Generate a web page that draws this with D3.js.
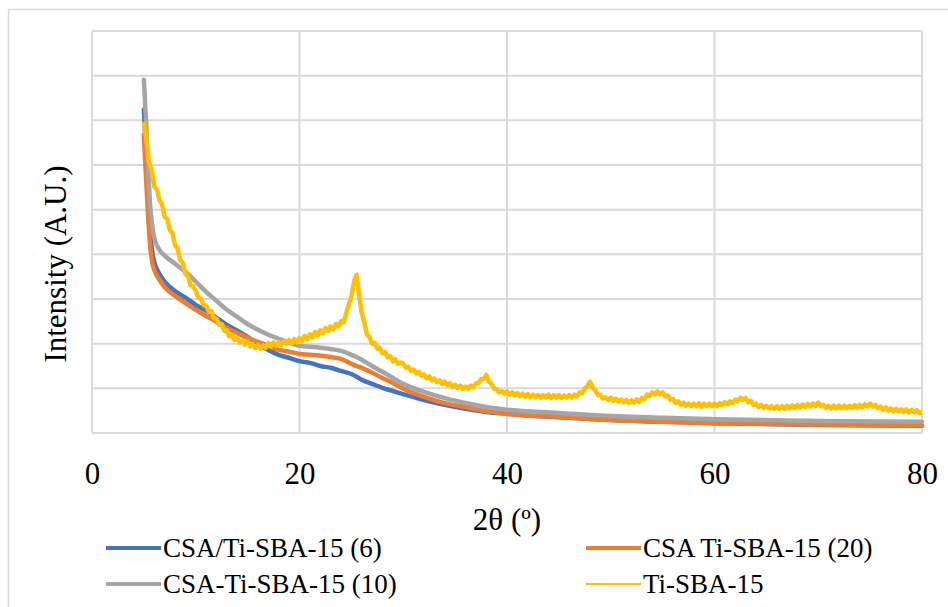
<!DOCTYPE html>
<html>
<head>
<meta charset="utf-8">
<script src="https://cdn.jsdelivr.net/npm/d3@7"></script>
</head>
<body style="margin:0">
<svg id="xrd" width="948" height="607"></svg>
<script>
// X-ray diffraction patterns, intensity in arbitrary units
const xTicks = [0, 20, 40, 60, 80];
const yGrid = [0, 100, 200, 300, 400, 500, 600, 700, 800, 900];

const seriesNames = ["CSA/Ti-SBA-15 (6)", "CSA Ti-SBA-15 (20)", "CSA-Ti-SBA-15 (10)", "Ti-SBA-15"];
const seriesColors = ["#4472C4", "#ED7D31", "#A5A5A5", "#FFC000"];

// Shared 2θ positions for the three CSA samples
const twoThetaCSA = [5, 5.2, 5.4, 5.6, 5.8, 6, 6.5, 7, 8, 9, 10, 11, 12, 13, 14, 15, 16, 17, 18, 19,
  20, 21, 22, 23, 24, 25, 25.5, 26, 27, 28, 29, 30, 32, 34, 36, 38, 40, 45, 50, 55, 60, 70, 80];

const csa6 = [724, 634, 534, 451, 406, 383, 356, 339, 318, 303, 287, 274, 258, 242, 229, 215, 200, 186, 175, 168,
  161, 157, 150, 146, 139, 132, 126, 119, 110, 101, 94, 87, 74, 63, 54, 47, 43, 35, 29, 25, 22, 18, 16];

const csa20 = [668, 578, 489, 421, 383, 365, 343, 327, 307, 291, 276, 262, 249, 235, 224, 213, 204, 195, 186, 182,
  177, 175, 173, 170, 166, 155, 150, 146, 135, 123, 112, 99, 81, 67, 58, 49, 43, 36, 29, 25, 22, 19, 17];

const csa10 = [791, 702, 601, 511, 466, 437, 410, 397, 379, 361, 339, 316, 296, 276, 260, 244, 231, 220, 211, 202,
  195, 193, 191, 188, 184, 175, 170, 164, 150, 137, 123, 110, 92, 78, 67, 58, 52, 45, 38, 34, 31, 27, 25];

// Ti-SBA-15 pattern, recorded every 0.25° from 5° to 80°
const tiStart = 5, tiStep = 0.25;
const tiSBA = [
  697, 655, 606, 590, 552, 546, 522, 512, 484, 479, 455, 447, 421, 413, 387, 381, 356, 352, 331, 329,
  318, 302, 301, 286, 285, 271, 273, 257, 256, 243, 244, 229, 230, 216, 219, 208, 213, 203, 207, 198,
  204, 194, 199, 190, 197, 189, 196, 191, 201, 194, 203, 196, 204, 197, 206, 199, 208, 201, 210, 203,
  213, 206, 217, 210, 221, 214, 226, 219, 230, 223, 235, 228, 239, 232, 244, 238, 250, 248, 268, 288,
  305, 338, 354, 308, 268, 248, 220, 215, 200, 202, 189, 191, 178, 181, 169, 172, 160, 165, 155, 158,
  155, 146, 148, 139, 142, 133, 137, 128, 131, 123, 127, 118, 122, 114, 118, 110, 115, 107, 111, 103,
  108, 101, 106, 99, 104, 99, 106, 102, 111, 111, 121, 121, 130, 115, 110, 99, 98, 91, 94, 88,
  93, 86, 91, 84, 89, 82, 88, 81, 87, 80, 86, 80, 85, 79, 85, 79, 86, 78, 85, 79,
  85, 78, 84, 79, 85, 79, 86, 82, 91, 89, 100, 104, 115, 102, 96, 85, 85, 77, 80, 74,
  79, 72, 77, 70, 75, 69, 74, 67, 73, 68, 75, 70, 79, 76, 86, 83, 91, 86, 93, 87,
  91, 82, 84, 74, 76, 67, 71, 63, 68, 61, 66, 60, 66, 60, 67, 59, 66, 60, 66, 60,
  66, 60, 67, 62, 69, 64, 71, 67, 75, 71, 79, 74, 78, 69, 72, 63, 66, 58, 63, 56,
  61, 55, 60, 54, 60, 54, 60, 54, 61, 55, 62, 56, 63, 57, 64, 58, 65, 59, 66, 60,
  68, 60, 63, 56, 61, 55, 61, 55, 61, 55, 61, 55, 61, 56, 62, 57, 63, 58, 64, 59,
  66, 59, 63, 55, 59, 52, 57, 50, 55, 49, 54, 48, 53, 47, 53, 46, 52, 46, 51, 45,
  47
];

const SERIF = '"Liberation Serif"';
const svg = d3.select("#xrd");
const W = 948, H = 607;
const plot = { left: 92, right: 922, top: 31, bottom: 433 };

const x = d3.scaleLinear().domain([0, 80]).range([plot.left, plot.right]);
const y = d3.scaleLinear().domain([0, 900]).range([plot.bottom, plot.top]);

// chart frame
svg.append("rect")
  .attr("x", 8.5).attr("y", 9.5)
  .attr("width", W).attr("height", H)
  .attr("fill", "none").attr("stroke", "#d9d9d9").attr("stroke-width", 1.5);

// gridlines
const grid = svg.append("g").attr("stroke", "#d9d9d9").attr("stroke-width", 2);
grid.selectAll("line.h").data(yGrid).join("line")
  .attr("class", "h")
  .attr("x1", plot.left).attr("x2", plot.right)
  .attr("y1", d => y(d)).attr("y2", d => y(d));
grid.selectAll("line.v").data(xTicks).join("line")
  .attr("class", "v")
  .attr("x1", d => x(d)).attr("x2", d => x(d))
  .attr("y1", plot.top).attr("y2", plot.bottom);

// x axis labels
const xAxis = d3.axisBottom(x).tickValues(xTicks).tickSize(0).tickPadding(0);
const gx = svg.append("g").attr("transform", `translate(0,${plot.bottom})`).call(xAxis);
gx.attr("font-family", SERIF).attr("font-size", 31);
gx.select(".domain").remove();
gx.selectAll("text")
  .attr("dy", null).attr("y", 51)
  .attr("fill", "#000")
  .style("font-family", SERIF)
  .style("font-size", "31px");

// axis titles
svg.append("text")
  .attr("x", x(40)).attr("y", 530)
  .attr("text-anchor", "middle")
  .style("font-family", SERIF)
  .style("font-size", "31px")
  .text("2θ (º)");
svg.append("text")
  .attr("transform", `translate(66,${(plot.top + plot.bottom) / 2 + 32}) rotate(-90)`)
  .attr("text-anchor", "middle")
  .style("font-family", SERIF)
  .style("font-size", "31px")
  .text("Intensity (A.U.)");

// series
const lineGen = d3.line().x(d => x(d[0])).y(d => y(d[1]));
const smoothLine = d3.line().x(d => x(d[0])).y(d => y(d[1])).curve(d3.curveMonotoneX);

const csaSeries = [csa6, csa20, csa10];
const plotG = svg.append("g");
csaSeries.forEach((vals, i) => {
  const pts = twoThetaCSA.map((t, k) => [t, vals[k]]);
  plotG.append("path")
    .attr("d", smoothLine(pts))
    .attr("fill", "none")
    .attr("stroke", seriesColors[i])
    .attr("stroke-width", 4.5)
    .attr("stroke-linejoin", "round")
    .attr("stroke-linecap", "round");
});
const tiPts = tiSBA.map((v, k) => [tiStart + k * tiStep, v]);
plotG.append("path")
  .attr("d", lineGen(tiPts))
  .attr("fill", "none")
  .attr("stroke", seriesColors[3])
  .attr("stroke-width", 4.5)
  .attr("stroke-linejoin", "round");

// legend
const legendPos = [[106, 548], [586, 548], [106, 584], [586, 584]];
const legendWidth = [4, 4, 4, 2];
const lg = svg.append("g");
seriesNames.forEach((name, i) => {
  const [lx, ly] = legendPos[i];
  lg.append("line")
    .attr("x1", lx).attr("x2", lx + 55)
    .attr("y1", ly).attr("y2", ly)
    .attr("stroke", seriesColors[i])
    .attr("stroke-width", legendWidth[i]);
  lg.append("text")
    .attr("x", lx + 57).attr("y", ly + 9)
    .style("font-family", SERIF)
    .style("font-size", "27px")
    .text(name);
});
</script>
</body>
</html>
